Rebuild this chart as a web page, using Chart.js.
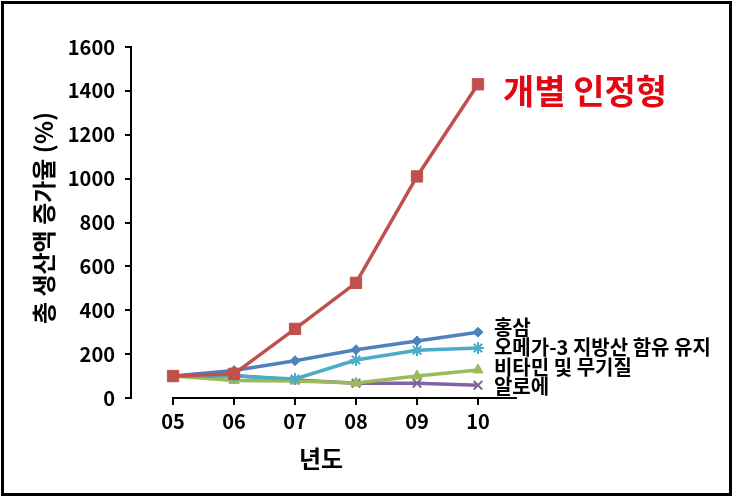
<!DOCTYPE html>
<html>
<head>
<meta charset="utf-8">
<script src="https://cdn.jsdelivr.net/npm/chart.js@4"></script>
<style>
  html, body { margin: 0; padding: 0; background: #fff; }
  #wrap { width: 733px; height: 497px; position: relative; }
</style>
</head>
<body>
<div id="wrap"><canvas id="chart"></canvas></div>
<script>
// Jahre (x-Achse) und Werte je Reihe
const years = ['05', '06', '07', '08', '09', '10'];
const yTicks = [0, 200, 400, 600, 800, 1000, 1200, 1400, 1600];

const gaebyeol = [100, 110, 315, 525, 1010, 1430];  // 개별 인정형
const hongsam  = [100, 125, 170, 220, 260, 300];    // 홍삼
const omega3   = [100, 100, 87, 173, 218, 228];     // 오메가-3 지방산 함유 유지
const vitamin  = [100, 80, 78, 68, 100, 128];       // 비타민 및 무기질
const aloe     = [100, 102, 82, 67, 67, 58];        // 알로에

const seriesNames = ['개별 인정형', '홍삼', '오메가-3 지방산 함유 유지', '비타민 및 무기질', '알로에'];

const FONT = "'Noto Sans CJK KR', 'Noto Sans', sans-serif";
Chart.defaults.font.family = FONT;

function pts(arr) {
  return arr.map((v, i) => ({ x: i, y: v }));
}

// Titel, Beschriftungen, x-Achsenlinie und Rahmen selbst zeichnen
const extras = {
  id: 'extras',
  beforeDraw(chart) {
    const ctx = chart.ctx;
    ctx.save();
    ctx.fillStyle = '#fff';
    ctx.fillRect(0, 0, chart.width, chart.height);
    ctx.restore();
  },
  afterDraw(chart) {
    const ctx = chart.ctx;
    const xs = chart.scales.x;
    const area = chart.chartArea;
    ctx.save();

    // x-Achse beginnt erst bei "05"
    ctx.strokeStyle = '#000';
    ctx.lineWidth = 2;
    ctx.beginPath();
    ctx.moveTo(xs.getPixelForValue(0) - 1, area.bottom);
    ctx.lineTo(area.right, area.bottom);
    ctx.stroke();

    // Achsentitel
    ctx.fillStyle = '#000';
    ctx.textAlign = 'center';
    ctx.textBaseline = 'middle';
    ctx.font = 'bold 24px ' + FONT;
    ctx.fillText('년도', 321, 459);

    ctx.save();
    ctx.translate(44, 218);
    ctx.rotate(-Math.PI / 2);
    ctx.fillText('총 생산액 증가율 (%)', 0, 0);
    ctx.restore();

    // Reihenbeschriftungen
    const lastX = xs.getPixelForValue(years.length - 1);
    ctx.textAlign = 'left';
    ctx.fillStyle = '#e30613';
    ctx.font = 'bold 34px ' + FONT;
    ctx.fillText(seriesNames[0], lastX + 25, 91);

    ctx.fillStyle = '#000';
    ctx.font = 'bold 20px ' + FONT;
    ctx.fillText(seriesNames[1], lastX + 16, 327);
    ctx.fillText(seriesNames[2], lastX + 16, 347);
    ctx.fillText(seriesNames[3], lastX + 16, 367);
    ctx.fillText(seriesNames[4], lastX + 16, 386);

    // Rahmen um das Bild
    ctx.strokeStyle = '#000';
    ctx.lineWidth = 3;
    ctx.strokeRect(2.5, 2.5, chart.width - 5, chart.height - 5);
    ctx.restore();
  }
};

const mkSet = (label, data, color, style, radius, bw) => ({
  label: label,
  data: pts(data),
  borderColor: color,
  backgroundColor: color,
  pointBorderColor: color,
  pointBackgroundColor: color,
  pointStyle: style,
  pointRadius: radius,
  pointBorderWidth: bw,
  borderWidth: 3.5,
  tension: 0
});

new Chart(document.getElementById('chart'), {
  type: 'line',
  data: {
    datasets: [
      mkSet(seriesNames[0], gaebyeol, '#c0504d', 'rect', 8, 1),
      mkSet(seriesNames[1], hongsam, '#4f81bd', 'rectRot', 5, 1),
      mkSet(seriesNames[2], omega3, '#4bacc6', 'star', 6, 2),
      mkSet(seriesNames[3], vitamin, '#9bbb59', 'triangle', 6, 1),
      mkSet(seriesNames[4], aloe, '#8064a2', 'crossRot', 6, 2)
    ]
  },
  options: {
    responsive: true,
    maintainAspectRatio: false,
    animation: false,
    layout: { padding: { top: 47, right: 216, left: 0, bottom: 0 } },
    plugins: {
      legend: { display: false },
      tooltip: { enabled: false }
    },
    scales: {
      x: {
        type: 'linear',
        min: -0.69,
        max: 5.64,
        afterFit(scale) { scale.height = 99; },
        afterBuildTicks(scale) { scale.ticks = years.map((y, i) => ({ value: i })); },
        border: { display: false },
        grid: { drawOnChartArea: false, drawTicks: true, tickLength: 7, color: '#000', lineWidth: 2 },
        ticks: {
          color: '#000',
          font: { size: 20, weight: 'bold' },
          padding: 4,
          maxRotation: 0,
          autoSkip: false,
          callback: (v) => years[v]
        }
      },
      y: {
        min: 0,
        max: 1600,
        afterFit(scale) { scale.width = 131; },
        afterBuildTicks(scale) { scale.ticks = yTicks.map(v => ({ value: v })); },
        border: { display: true, color: '#000', width: 2 },
        grid: { drawOnChartArea: false, drawTicks: true, tickLength: 6, color: '#000', lineWidth: 2 },
        ticks: {
          color: '#000',
          font: { size: 20, weight: 'bold' },
          padding: 10,
          callback: (v) => String(v)
        }
      }
    }
  },
  plugins: [extras]
});
</script>
</body>
</html>
